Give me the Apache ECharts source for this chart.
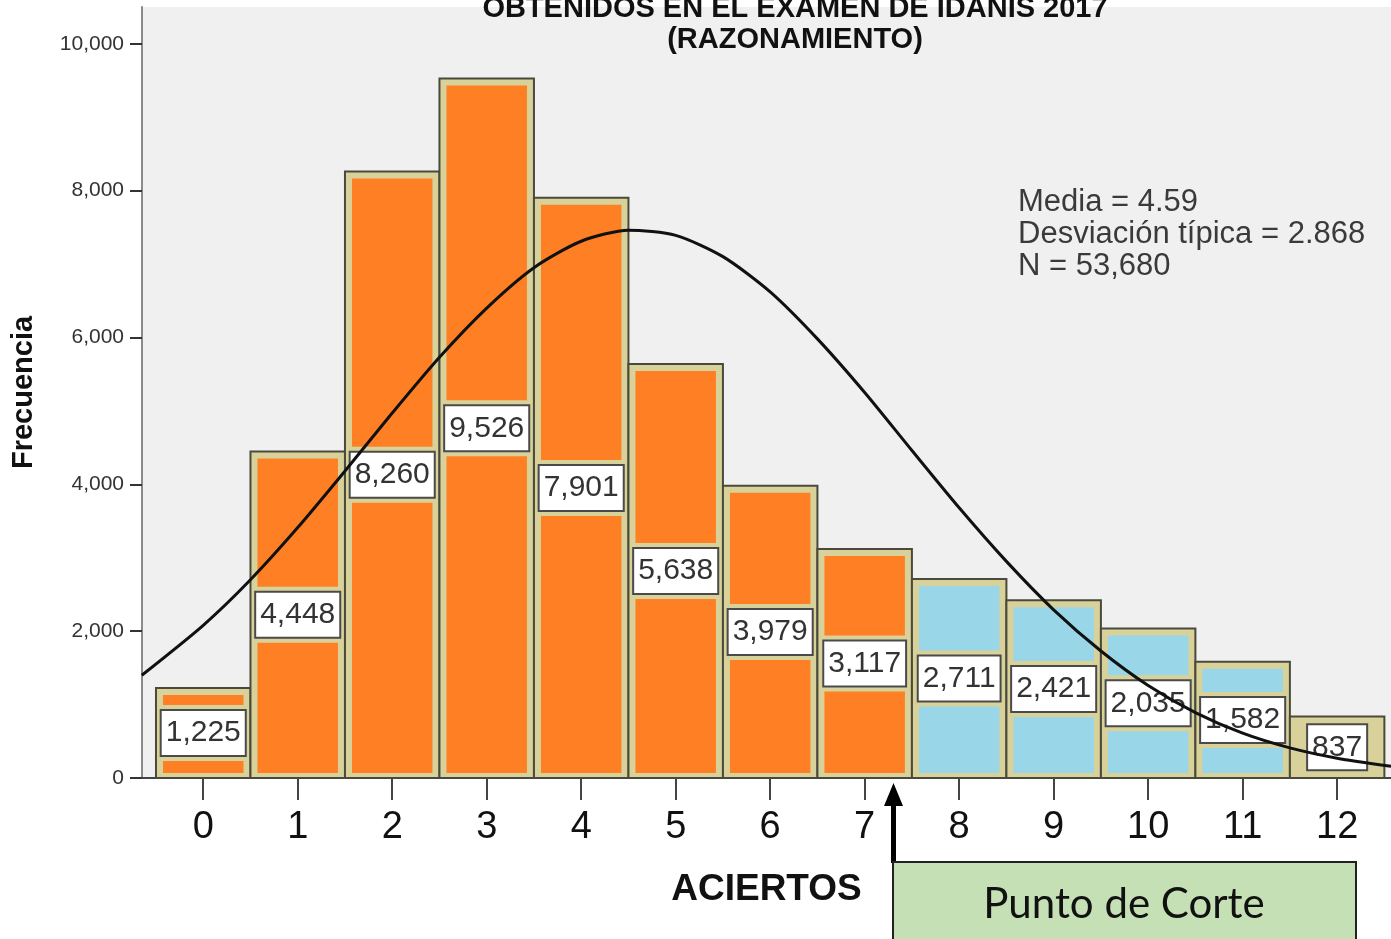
<!DOCTYPE html>
<html>
<head>
<meta charset="utf-8">
<script src="https://cdn.jsdelivr.net/npm/echarts@6/dist/echarts.min.js"></script>
<style>
  html, body { margin: 0; padding: 0; background: #fff; }
  #chart { width: 1391px; height: 939px; }
</style>
</head>
<body>
<div id="chart"></div>
<script>
const aciertos = [0, 1, 2, 3, 4, 5, 6, 7, 8, 9, 10, 11, 12]
const frecuencia = [1225, 4448, 8260, 9526, 7901, 5638, 3979, 3117, 2711, 2421, 2035, 1582, 837]
const puntoCorte = 7.5

// curva normal
const curvaX = [-0.65, 0, 0.5, 1, 1.5, 2, 2.5, 3, 3.5, 4, 4.5, 5, 5.5, 6, 6.5, 7, 7.5, 8, 8.5, 9, 9.5, 10, 10.5, 11, 11.5, 12, 12.57]
const curvaY = [1400, 2080, 2700, 3410, 4180, 4970, 5730, 6400, 6950, 7310, 7460, 7390, 7100, 6620, 5980, 5250, 4460, 3680, 2950, 2290, 1730, 1260, 890, 610, 410, 270, 160]

const estadisticos = ['Media = 4.59', 'Desviación típica = 2.868', 'N = 53,680']

const FONT = '"Liberation Sans", Arial, sans-serif'
const TAN = '#d8d29a'

const myChart = echarts.init(document.getElementById('chart'))

const option = {
  animation: false,
  backgroundColor: '#fff',
  title: {
    text: 'OBTENIDOS EN EL EXAMEN DE IDANIS 2017\n(RAZONAMIENTO)',
    left: 790,
    top: -12,
    textAlign: 'center',
    textStyle: { fontFamily: FONT, fontSize: 29, fontWeight: 'bold', color: '#111', lineHeight: 31 }
  },
  grid: {
    left: 142, right: 0, top: 7, bottom: 161,
    show: true, backgroundColor: '#f0f0f0', borderWidth: 0
  },
  xAxis: {
    type: 'value',
    min: -0.648,
    max: 12.57,
    name: 'ACIERTOS',
    nameLocation: 'middle',
    nameGap: 93,
    nameTextStyle: { fontFamily: FONT, fontSize: 37, fontWeight: 'bold', color: '#111' },
    axisLine: { show: true, onZero: false, lineStyle: { color: '#444', width: 2 } },
    axisTick: { show: true, length: 22, customValues: aciertos, lineStyle: { color: '#444', width: 2 } },
    axisLabel: { customValues: aciertos, margin: 31, fontFamily: FONT, fontSize: 38, color: '#111' },
    splitLine: { show: false }
  },
  yAxis: {
    type: 'value',
    min: 0,
    max: 10500,
    interval: 2000,
    name: 'Frecuencia',
    nameLocation: 'middle',
    nameRotate: 90,
    nameGap: 104,
    nameTextStyle: { fontFamily: FONT, fontSize: 29, fontWeight: 'bold', color: '#111' },
    axisLine: { show: true, onZero: false, lineStyle: { color: '#8a8a8a', width: 2 } },
    axisTick: { show: true, length: 12, lineStyle: { color: '#333', width: 2 } },
    axisLabel: {
      margin: 18, fontFamily: FONT, fontSize: 21, color: '#333',
      showMaxLabel: false,
      formatter: v => v.toLocaleString('en-US')
    },
    splitLine: { show: false }
  },
  series: [
    {
      type: 'custom',
      data: aciertos.map((a, i) => [a, frecuencia[i]]),
      renderItem: (params, api) => {
        const x = api.value(0)
        const v = api.value(1)
        const p0 = api.coord([x - 0.5, v])
        const p1 = api.coord([x + 0.5, 0])
        const w = p1[0] - p0[0]
        const h = p1[1] - p0[1]
        const mid = api.coord([x, v / 2])
        const fill = x < puntoCorte ? '#ff7f24' : '#98d6e8'
        return {
          type: 'group',
          children: [
            { type: 'rect', shape: { x: p0[0], y: p0[1], width: w, height: h },
              style: { fill: TAN, stroke: '#4a4a3c', lineWidth: 2 } },
            { type: 'rect', shape: { x: p0[0] + 7, y: p0[1] + 7, width: w - 14, height: h - 12 },
              style: { fill: fill } },
            { type: 'rect', shape: { x: p0[0] + 2, y: mid[1] - 28, width: w - 4, height: 56 },
              style: { fill: TAN } },
            { type: 'text', x: mid[0], y: mid[1],
              style: {
                text: v.toLocaleString('en-US'),
                fontFamily: FONT, fontSize: 30, fill: '#333',
                align: 'center', verticalAlign: 'middle',
                lineHeight: 34, padding: [5, 4, 5, 4],
                backgroundColor: '#fff', borderColor: '#4a4a4a', borderWidth: 2
              } }
          ]
        }
      },
      z: 2
    },
    {
      type: 'line',
      data: curvaX.map((x, i) => [x, curvaY[i]]),
      smooth: 0.25,
      showSymbol: false,
      lineStyle: { color: '#111', width: 3 },
      z: 5
    }
  ],
  graphic: [
    {
      type: 'text',
      left: 1018,
      top: 186,
      style: {
        text: estadisticos.join('\n'),
        fontFamily: FONT, fontSize: 31, lineHeight: 32, fill: '#3a3a3a'
      },
      z: 10
    },
    // flecha del punto de corte
    {
      type: 'rect',
      shape: { x: 891, y: 803, width: 5, height: 60 },
      style: { fill: '#000' },
      z: 10
    },
    {
      type: 'polygon',
      shape: { points: [[893.5, 783], [884, 806], [903, 806]] },
      style: { fill: '#000' },
      z: 10
    },
    {
      type: 'rect',
      shape: { x: 893, y: 862, width: 463, height: 90 },
      style: { fill: '#c5e0b4', stroke: '#222', lineWidth: 2 },
      z: 10
    },
    {
      type: 'text',
      x: 1124,
      y: 904,
      style: {
        text: 'Punto de Corte',
        fontFamily: 'Lato, "Open Sans", sans-serif', fontSize: 42, fill: '#111',
        align: 'center', verticalAlign: 'middle'
      },
      z: 11
    }
  ]
}

myChart.setOption(option)
</script>
</body>
</html>
